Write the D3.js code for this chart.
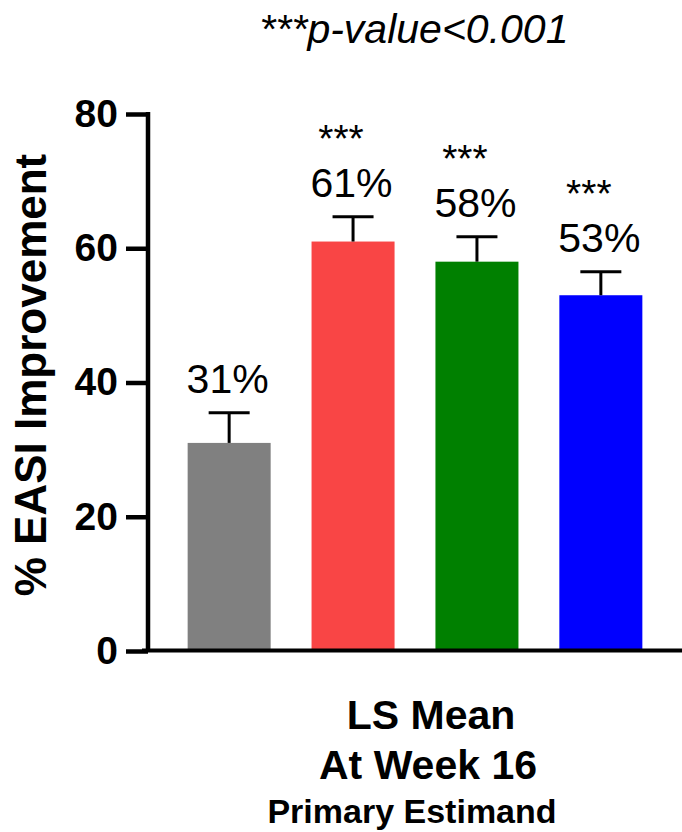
<!DOCTYPE html>
<html>
<head>
<meta charset="utf-8">
<script src="https://cdn.jsdelivr.net/npm/d3@7/dist/d3.min.js"></script>
<style>
  html, body { margin: 0; padding: 0; background: #fff; }
  svg { display: block; }
  text { font-family: "Liberation Sans", Arial, Helvetica, sans-serif; fill: #000; }
</style>
</head>
<body>
<div id="chart"></div>
<script>
// LS mean % EASI improvement at week 16 with upper error bars
const groups = ["Placebo", "Dose A", "Dose B", "Dose C"];
const means = [31, 61, 58, 53];
const upperErr = [35.5, 64.7, 61.7, 56.5];
const valueLabels = ["31%", "61%", "58%", "53%"];
const significance = ["", "***", "***", "***"];
const barColors = ["#808080", "#f94545", "#008000", "#0000ff"];
const yTicks = [0, 20, 40, 60, 80];
const xTitleLines = ["LS Mean", "At Week 16", "Primary Estimand"];

const W = 682, H = 832;
const svg = d3.select("#chart").append("svg")
  .attr("width", W).attr("height", H);

const axisX = 148;
const x = d3.scaleBand()
  .domain(groups)
  .range([axisX, 682])
  .paddingInner(0.33)
  .paddingOuter(0.32);

const y = d3.scaleLinear().domain([0, 80]).range([651, 114]);

// Bars
svg.append("g").selectAll("rect")
  .data(groups)
  .join("rect")
  .attr("x", d => x(d))
  .attr("width", x.bandwidth())
  .attr("y", (d, i) => y(means[i]))
  .attr("height", (d, i) => y(0) - y(means[i]))
  .attr("fill", (d, i) => barColors[i]);

// Error bars (upper only)
const capHalf = 20.5;
const eb = svg.append("g").attr("stroke", "#000").attr("stroke-width", 3);
groups.forEach((g, i) => {
  const cx = x(g) + x.bandwidth() / 2;
  eb.append("line")
    .attr("x1", cx).attr("x2", cx)
    .attr("y1", y(means[i])).attr("y2", y(upperErr[i]));
  eb.append("line")
    .attr("x1", cx - capHalf).attr("x2", cx + capHalf)
    .attr("y1", y(upperErr[i])).attr("y2", y(upperErr[i]));
});

// Value labels, with the significance marker stacked above where present
const lab = svg.append("g").attr("text-anchor", "middle");
groups.forEach((g, i) => {
  const cx = x(g) + x.bandwidth() / 2;
  const base = y(upperErr[i]) - 20;
  lab.append("text")
    .attr("x", cx - 1.5).attr("y", base)
    .attr("font-size", 41)
    .text(valueLabels[i]);
  if (significance[i]) {
    lab.append("text")
      .attr("x", cx - 12).attr("y", base - 45)
      .attr("font-size", 39)
      .text(significance[i]);
  }
});

// Y axis
const yAxis = d3.axisLeft(y)
  .tickValues(yTicks)
  .tickFormat(d3.format("d"))
  .tickSize(22)
  .tickPadding(8)
  .tickSizeOuter(0);

const gy = svg.append("g")
  .attr("transform", `translate(${axisX},0)`)
  .call(yAxis);
gy.select(".domain").attr("stroke", "#000").attr("stroke-width", 4.5)
  .attr("d", `M0,${y(80) - 2}V${y(0)}`);
gy.selectAll(".tick line").attr("stroke", "#000").attr("stroke-width", 4.5);
gy.selectAll(".tick text")
  .attr("font-size", 39)
  .attr("font-weight", "bold")
  .attr("font-family", "'Liberation Sans', Arial, sans-serif")
  .attr("fill", "#000");

// X axis baseline
svg.append("line")
  .attr("x1", axisX - 6).attr("x2", W)
  .attr("y1", y(0) - 0.5).attr("y2", y(0) - 0.5)
  .attr("stroke", "#000").attr("stroke-width", 4);

// Y axis title
svg.append("text")
  .attr("transform", `translate(46,375) rotate(-90)`)
  .attr("text-anchor", "middle")
  .attr("font-size", 44)
  .attr("font-weight", "bold")
  .text("% EASI Improvement");

// Significance note
svg.append("text")
  .attr("x", 414).attr("y", 43)
  .attr("text-anchor", "middle")
  .attr("font-size", 41)
  .attr("font-style", "italic")
  .text("***p-value<0.001");

// X title lines
const xTitle = svg.append("g").attr("text-anchor", "middle").attr("font-weight", "bold");
xTitle.append("text").attr("x", 431).attr("y", 729).attr("font-size", 41).text(xTitleLines[0]);
xTitle.append("text").attr("x", 428).attr("y", 779).attr("font-size", 41).text(xTitleLines[1]);
xTitle.append("text").attr("x", 412).attr("y", 823).attr("font-size", 34).text(xTitleLines[2]);
</script>
</body>
</html>
